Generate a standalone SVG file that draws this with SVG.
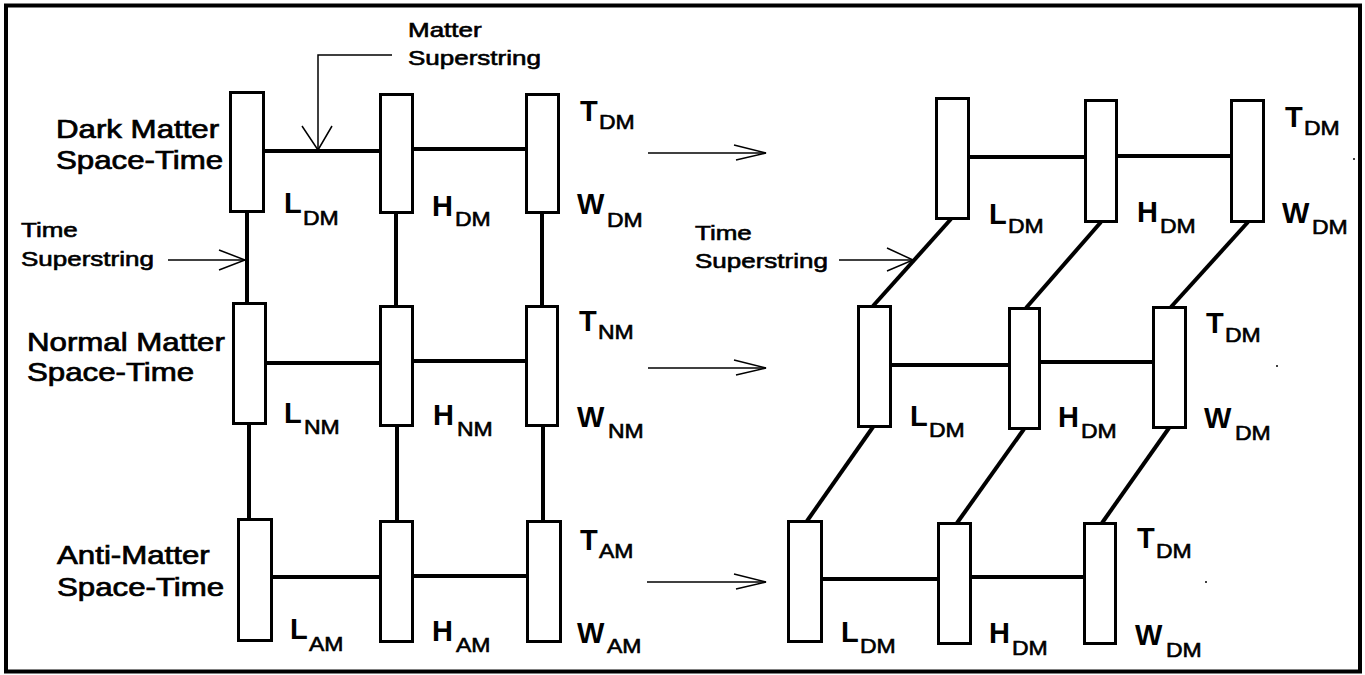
<svg xmlns="http://www.w3.org/2000/svg" width="1365" height="675" viewBox="0 0 1365 675">
<style>
.box{fill:#fff;stroke:#000;stroke-width:3}
.conn{stroke:#000;stroke-width:4;fill:none;stroke-linecap:butt}
.thin{stroke:#000;stroke-width:1.5;fill:none}
text{font-family:"Liberation Sans",Arial,sans-serif;fill:#000}
.t25{font-size:25px;stroke:#000;stroke-width:0.7}
.t20{font-size:20px;stroke:#000;stroke-width:0.6}
.big{font-size:29px;font-weight:bold}
.sub{font-size:20px;stroke:#000;stroke-width:0.6}
</style>
<rect x="0" y="0" width="1365" height="675" fill="#fff"/>
<rect x="6" y="5.5" width="1354" height="666" fill="none" stroke="#000" stroke-width="4"/>

<!-- side labels -->
<g id="lbl-dark">
<text class="t25" transform="translate(56,138) scale(1.25,1)">Dark Matter</text>
<text class="t25" transform="translate(56,169) scale(1.25,1)">Space-Time</text>
</g>
<g id="lbl-normal">
<text class="t25" transform="translate(27,351) scale(1.25,1)">Normal Matter</text>
<text class="t25" transform="translate(27,381) scale(1.25,1)">Space-Time</text>
</g>
<g id="lbl-anti">
<text class="t25" transform="translate(57,564) scale(1.25,1)">Anti-Matter</text>
<text class="t25" transform="translate(57,596) scale(1.25,1)">Space-Time</text>
</g>
<g id="lbl-matter-superstring">
<text class="t20" transform="translate(408,37) scale(1.3,1)">Matter</text>
<text class="t20" transform="translate(408,65) scale(1.3,1)">Superstring</text>
</g>
<g id="lbl-time-left">
<text class="t20" transform="translate(21,237) scale(1.3,1)">Time</text>
<text class="t20" transform="translate(21,266) scale(1.3,1)">Superstring</text>
</g>
<g id="lbl-time-right">
<text class="t20" transform="translate(695,240) scale(1.3,1)">Time</text>
<text class="t20" transform="translate(695,268) scale(1.3,1)">Superstring</text>
</g>

<g id="connectors">
<!-- left horizontal -->
<line class="conn" x1="265" y1="151" x2="380" y2="151"/>
<line class="conn" x1="414" y1="149" x2="526" y2="149"/>
<line class="conn" x1="267" y1="363" x2="380" y2="363"/>
<line class="conn" x1="414" y1="361" x2="526" y2="361"/>
<line class="conn" x1="273" y1="577" x2="380" y2="577"/>
<line class="conn" x1="414" y1="576" x2="527" y2="576"/>
<!-- left vertical -->
<line class="conn" x1="247" y1="213" x2="247" y2="303"/>
<line class="conn" x1="249" y1="425" x2="249" y2="519"/>
<line class="conn" x1="396" y1="214" x2="396" y2="306"/>
<line class="conn" x1="397" y1="427" x2="397" y2="521"/>
<line class="conn" x1="542" y1="214" x2="542" y2="306"/>
<line class="conn" x1="543" y1="427" x2="543" y2="521"/>
<!-- right horizontal -->
<line class="conn" x1="970" y1="157" x2="1085" y2="157"/>
<line class="conn" x1="1118" y1="156" x2="1231" y2="156"/>
<line class="conn" x1="892" y1="365" x2="1009" y2="365"/>
<line class="conn" x1="1041" y1="362" x2="1153" y2="362"/>
<line class="conn" x1="823" y1="579" x2="938" y2="579"/>
<line class="conn" x1="972" y1="577" x2="1084" y2="577"/>
<!-- right diagonals -->
<line class="conn" x1="951" y1="219" x2="873" y2="306"/>
<line class="conn" x1="1101" y1="222" x2="1026" y2="308"/>
<line class="conn" x1="1248" y1="222" x2="1171" y2="307"/>
<line class="conn" x1="873" y1="427" x2="807" y2="521"/>
<line class="conn" x1="1024" y1="429" x2="957" y2="523"/>
<line class="conn" x1="1169" y1="428" x2="1102" y2="523"/>
<!-- pointer arrows -->
<polyline class="thin" points="392,55 318,55 318,150"/>
<polyline class="thin" points="302,126 318,150 332,126"/>
<line class="thin" x1="168" y1="260" x2="245" y2="260"/>
<polyline class="thin" points="219,250 245,260 219,270"/>
<line class="thin" x1="839" y1="260" x2="913" y2="260"/>
<polyline class="thin" points="887,248 913,260 887,271"/>
<!-- transformation arrows -->
<line class="thin" x1="648" y1="153" x2="766" y2="153"/>
<polyline class="thin" points="734,145 766,153 736,160"/>
<line class="thin" x1="648" y1="368" x2="766" y2="368"/>
<polyline class="thin" points="734,360 766,368 736,375"/>
<line class="thin" x1="647" y1="582" x2="766" y2="582"/>
<polyline class="thin" points="734,574 766,582 736,589"/>
</g>

<!-- left nodes -->
<g id="left-L-DM"><rect class="box" x="230.5" y="92.5" width="33" height="119"/>
<text class="big" x="284" y="213">L</text><text class="sub" transform="translate(303,225) scale(1.15,1)">DM</text></g>
<g id="left-H-DM"><rect class="box" x="380.5" y="94.5" width="32" height="118"/>
<text class="big" x="432" y="216">H</text><text class="sub" transform="translate(455,226) scale(1.15,1)">DM</text></g>
<g id="left-W-DM"><rect class="box" x="526.5" y="94.5" width="32" height="118"/>
<text class="big" x="580" y="121">T</text><text class="sub" transform="translate(599,129) scale(1.15,1)">DM</text>
<text class="big" x="577" y="214">W</text><text class="sub" transform="translate(607,227) scale(1.15,1)">DM</text></g>

<g id="left-L-NM"><rect class="box" x="233.5" y="303.5" width="32" height="120"/>
<text class="big" x="284" y="423">L</text><text class="sub" transform="translate(304,434) scale(1.15,1)">NM</text></g>
<g id="left-H-NM"><rect class="box" x="380.5" y="306.5" width="32" height="119"/>
<text class="big" x="433" y="425">H</text><text class="sub" transform="translate(457,436) scale(1.15,1)">NM</text></g>
<g id="left-W-NM"><rect class="box" x="526.5" y="306.5" width="31" height="119"/>
<text class="big" x="579" y="331">T</text><text class="sub" transform="translate(598,339) scale(1.15,1)">NM</text>
<text class="big" x="577" y="427">W</text><text class="sub" transform="translate(608,438) scale(1.15,1)">NM</text></g>

<g id="left-L-AM"><rect class="box" x="238.5" y="519.5" width="33" height="121"/>
<text class="big" x="290" y="639">L</text><text class="sub" transform="translate(309,651) scale(1.15,1)">AM</text></g>
<g id="left-H-AM"><rect class="box" x="380.5" y="521.5" width="32" height="120"/>
<text class="big" x="432" y="641">H</text><text class="sub" transform="translate(456,652) scale(1.15,1)">AM</text></g>
<g id="left-W-AM"><rect class="box" x="527.5" y="521.5" width="33" height="120"/>
<text class="big" x="580" y="550">T</text><text class="sub" transform="translate(599,558) scale(1.15,1)">AM</text>
<text class="big" x="577" y="643">W</text><text class="sub" transform="translate(607,653) scale(1.15,1)">AM</text></g>

<!-- right nodes -->
<g id="right-L-1"><rect class="box" x="936.5" y="98.5" width="32" height="120"/>
<text class="big" x="989" y="224">L</text><text class="sub" transform="translate(1008,233) scale(1.15,1)">DM</text></g>
<g id="right-H-1"><rect class="box" x="1085.5" y="100.5" width="31" height="121"/>
<text class="big" x="1137" y="222">H</text><text class="sub" transform="translate(1160,233) scale(1.15,1)">DM</text></g>
<g id="right-W-1"><rect class="box" x="1231.5" y="100.5" width="32" height="121"/>
<text class="big" x="1285" y="127">T</text><text class="sub" transform="translate(1304,135) scale(1.15,1)">DM</text>
<text class="big" x="1282" y="223">W</text><text class="sub" transform="translate(1312,234) scale(1.15,1)">DM</text></g>

<g id="right-L-2"><rect class="box" x="858.5" y="306.5" width="32" height="120"/>
<text class="big" x="910" y="426">L</text><text class="sub" transform="translate(929,437) scale(1.15,1)">DM</text></g>
<g id="right-H-2"><rect class="box" x="1009.5" y="308.5" width="30" height="120"/>
<text class="big" x="1058" y="427">H</text><text class="sub" transform="translate(1081,438) scale(1.15,1)">DM</text></g>
<g id="right-W-2"><rect class="box" x="1153.5" y="307.5" width="32" height="120"/>
<text class="big" x="1206" y="333">T</text><text class="sub" transform="translate(1225,342) scale(1.15,1)">DM</text>
<text class="big" x="1204" y="428">W</text><text class="sub" transform="translate(1235,440) scale(1.15,1)">DM</text></g>

<g id="right-L-3"><rect class="box" x="788.5" y="521.5" width="33" height="120"/>
<text class="big" x="841" y="642">L</text><text class="sub" transform="translate(860,653) scale(1.15,1)">DM</text></g>
<g id="right-H-3"><rect class="box" x="938.5" y="523.5" width="32" height="120"/>
<text class="big" x="989" y="643">H</text><text class="sub" transform="translate(1012,655) scale(1.15,1)">DM</text></g>
<g id="right-W-3"><rect class="box" x="1084.5" y="523.5" width="31" height="120"/>
<text class="big" x="1137" y="548">T</text><text class="sub" transform="translate(1156,558) scale(1.15,1)">DM</text>
<text class="big" x="1135" y="645">W</text><text class="sub" transform="translate(1166,657) scale(1.15,1)">DM</text></g>

<g id="specks" fill="#000">
<circle cx="1354" cy="159" r="1"/>
<circle cx="1277" cy="366" r="1"/>
<circle cx="1206" cy="582" r="1"/>
</g>
</svg>
